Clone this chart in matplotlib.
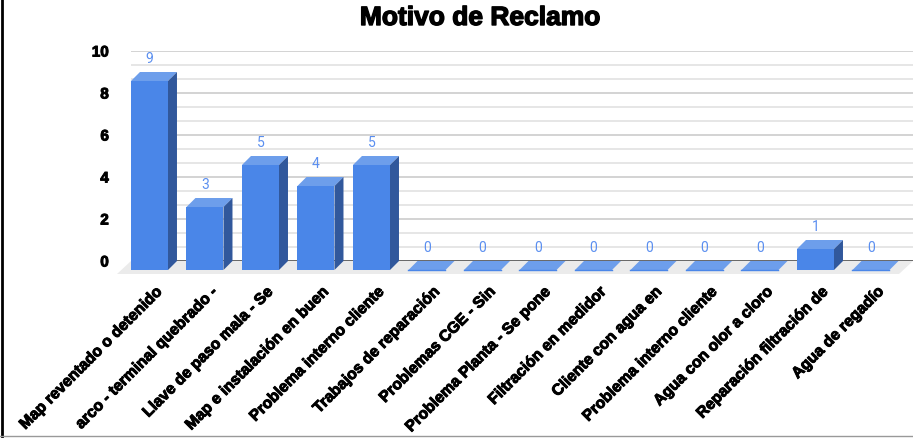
import matplotlib
matplotlib.use("Agg")
import matplotlib.pyplot as plt
import matplotlib.patheffects as pe
from matplotlib.patches import Polygon
from matplotlib.lines import Line2D
from matplotlib.ticker import MultipleLocator

categories = [
    "Map reventado o detenido",
    "arco - terminal quebrado -",
    "Llave de paso mala - Se",
    "Map e instalación en buen",
    "Problema interno cliente",
    "Trabajos de reparación",
    "Problemas CGE - Sin",
    "Problema Planta - Se pone",
    "Filtración en medidor",
    "Cliente con agua en",
    "Problema interno cliente",
    "Agua con olor a cloro",
    "Reparación filtración de",
    "Agua de regadío",
]
counts = [9, 3, 5, 4, 5, 0, 0, 0, 0, 0, 0, 0, 1, 0]
y_ticks = [0, 2, 4, 6, 8, 10]
title = "Motivo de Reclamo"

plt.rcParams['font.family'] = ['Liberation Sans', 'DejaVu Sans']

FRONT = '#4a86e8'
SIDE = '#31589c'
TOP = '#6d9eeb'
LABEL_BLUE = '#5b8ff0'

# heavier strokes, like the original render
heavy = [pe.withStroke(linewidth=0.7, foreground='black')]

fig = plt.figure(figsize=(9.13, 4.38), dpi=100)
fig.set_facecolor('white')

# axes = back wall of the 3d box
ax = fig.add_axes([131 / 913, (438 - 261) / 438, 782 / 913, 210 / 438])
ax.set_xlim(-0.495, 13.595)
ax.set_ylim(0, 10)
ax.set_facecolor('none')
for s in ax.spines.values():
    s.set_visible(False)

ax.set_xticks([])
ax.set_yticks(y_ticks)
ax.set_yticklabels([str(t) for t in y_ticks], fontsize=11, fontweight='bold',
                   path_effects=heavy)
ax.yaxis.set_minor_locator(MultipleLocator(2 / 3))
ax.tick_params(axis='y', which='both', length=0, pad=16)
ax.grid(axis='y', which='major', color='#cccccc', linewidth=1.2, zorder=0)
ax.grid(axis='y', which='minor', color='#e2e2e2', linewidth=1.2, zorder=0)
ax.set_axisbelow(True)

# depth of the 3d effect, pixels -> data units
inv = ax.transData.inverted()
x0, y0 = inv.transform((0, 0))
x1, y1 = inv.transform((9, 9))
ddx, ddy = x1 - x0, y1 - y0
x2, y2 = inv.transform((14, 13))
fdx, fdy = x2 - x0, y2 - y0

# floor
xl, xr = ax.get_xlim()
floor = Polygon([(xl, 0), (xr, 0), (xr - fdx, -fdy), (xl - fdx, -fdy)],
                closed=True, facecolor='#ebebeb', edgecolor='none',
                clip_on=False, zorder=1)
ax.add_patch(floor)
ax.axhline(0, color='#555555', linewidth=1.2, zorder=2)

w = 0.667
for i, v in enumerate(counts):
    l, r = i - w / 2, i + w / 2
    top = Polygon([(l - ddx, v - ddy), (r - ddx, v - ddy), (r, v), (l, v)],
                  closed=True, facecolor=TOP, edgecolor='none',
                  clip_on=False, zorder=3)
    ax.add_patch(top)
    if v > 0:
        side = Polygon([(r - ddx, -ddy), (r, 0), (r, v), (r - ddx, v - ddy)],
                       closed=True, facecolor=SIDE, edgecolor='none',
                       clip_on=False, zorder=3)
        ax.add_patch(side)
        front = Polygon([(l - ddx, -ddy), (r - ddx, -ddy), (r - ddx, v - ddy), (l - ddx, v - ddy)],
                        closed=True, facecolor=FRONT, edgecolor='none',
                        clip_on=False, zorder=4)
        ax.add_patch(front)
    else:
        ax.plot([l - ddx, r - ddx], [-ddy, -ddy], color=FRONT, linewidth=1,
                clip_on=False, zorder=4)
    ax.annotate(str(v), (i - ddx, v), xytext=(0, 9.5), textcoords='offset points',
                ha='center', va='center', fontsize=10, color=LABEL_BLUE,
                family=['Roboto', 'DejaVu Sans'], annotation_clip=False)

for i, name in enumerate(categories):
    ax.annotate(name, (i, 0), xytext=(-2.5, -16), textcoords='offset points',
                ha='right', va='top', rotation=45, rotation_mode='anchor',
                fontsize=11.3, fontweight='bold', color='black',
                path_effects=heavy, annotation_clip=False)

fig.text(480 / 913, 1 - 18 / 438, title, ha='center', va='center',
         fontsize=19, fontweight='bold',
         path_effects=[pe.withStroke(linewidth=1.0, foreground='black')])

# screenshot borders
fig.add_artist(Line2D([1.5 / 913, 1.5 / 913], [0, 1], color='black', linewidth=2))
fig.add_artist(Line2D([0, 1], [2 / 438, 2 / 438], color='#999999', linewidth=1))

fig.savefig('out.png', dpi=100, facecolor='white')
plt.close(fig)
